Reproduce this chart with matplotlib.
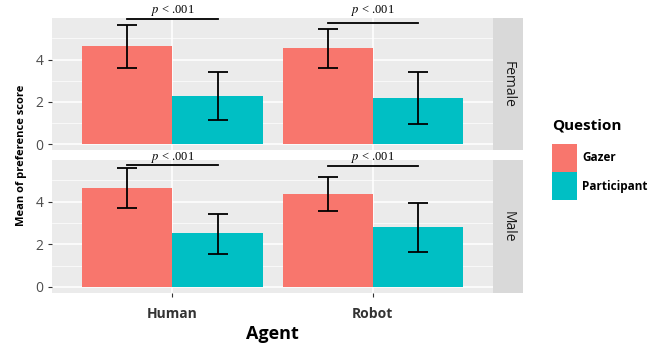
import numpy as np
import matplotlib
matplotlib.use("Agg")
from matplotlib import pyplot as plt
from matplotlib.patches import Patch

plt.rcParams['font.family'] = ['Open Sans', 'DejaVu Sans']
plt.rcParams['mathtext.fontset'] = 'stix'

agents = ["Human", "Robot"]
questions = ["Gazer", "Participant"]
genders = ["Female", "Male"]
colors = ["#F8766D", "#00BFC4"]

# means[gender][question][agent]
means = {
    "Female": {"Gazer": [4.66, 4.55], "Participant": [2.29, 2.20]},
    "Male": {"Gazer": [4.64, 4.36], "Participant": [2.52, 2.80]},
}
upper = {
    "Female": {"Gazer": [5.64, 5.44], "Participant": [3.41, 3.41]},
    "Male": {"Gazer": [5.56, 5.14], "Participant": [3.43, 3.94]},
}
lower = {
    "Female": {"Gazer": [3.62, 3.62], "Participant": [1.17, 0.97]},
    "Male": {"Gazer": [3.71, 3.54], "Participant": [1.53, 1.64]},
}
# significance bar heights per gender/agent
sig_line = {"Female": [5.93, 5.72], "Male": [5.72, 5.69]}
sig_text = {"Female": [6.30, 6.30], "Male": [6.07, 6.07]}
sig_label = r"$p$ < .001"

W, H = 650, 343
fig = plt.figure(figsize=(6.5, 3.43), dpi=100)

panel_left, panel_right, strip_right = 52.3, 493, 523
panels = {"Female": (18.3, 150), "Male": (160, 292.7)}

x = np.arange(1, len(agents) + 1)
bw = 0.45

for g in genders:
    top, bot = panels[g]
    ax = fig.add_axes([panel_left / W, 1 - bot / H, (panel_right - panel_left) / W, (bot - top) / H])
    ax.set_facecolor("#EBEBEB")
    for qi, q in enumerate(questions):
        xs = x + (qi - 0.5) * bw
        ax.bar(xs, means[g][q], width=bw, color=colors[qi], zorder=3)
        m = np.array(means[g][q])
        err = [m - np.array(lower[g][q]), np.array(upper[g][q]) - m]
        ax.errorbar(xs, m, yerr=err, fmt="none", ecolor="black", elinewidth=1.3,
                    capsize=7, capthick=1.3, zorder=4)
    for ai in range(len(agents)):
        ax.plot([x[ai] - bw / 2, x[ai] + bw / 2], [sig_line[g][ai]] * 2, color="black",
                lw=1.3, clip_on=False, zorder=5)
        ax.text(x[ai], sig_text[g][ai], sig_label, ha="center", va="center", fontsize=9,
                family="Liberation Serif", clip_on=False, zorder=5)
    ax.set_xlim(0.4, 2.6)
    ax.set_ylim(-0.27, 5.95)
    ax.set_yticks([0, 2, 4])
    ax.set_yticks([1, 3, 5], minor=True)
    ax.set_xticks(x)
    ax.grid(True, which="major", color="white", lw=1.1, zorder=0)
    ax.grid(True, which="minor", axis="y", color="white", lw=0.5, zorder=0)
    ax.set_axisbelow(True)
    for s in ax.spines.values():
        s.set_visible(False)
    ax.tick_params(axis="y", which="major", colors="#333333", labelcolor="#4D4D4D", labelsize=10, length=3)
    ax.tick_params(axis="y", which="minor", length=0)
    if g == "Male":
        ax.set_xticklabels(agents, fontsize=10, fontweight="bold", color="black")
        ax.tick_params(axis="x", colors="#333333", length=3, pad=7)
        ax.set_xlabel("Agent", fontsize=13, fontweight="bold", labelpad=3)
    else:
        ax.set_xticklabels([])
        ax.tick_params(axis="x", length=0)
    # strip
    sx = fig.add_axes([panel_right / W, 1 - bot / H, (strip_right - panel_right) / W, (bot - top) / H])
    sx.set_facecolor("#D9D9D9")
    sx.set_xticks([])
    sx.set_yticks([])
    for s in sx.spines.values():
        s.set_visible(False)
    sx.text(0.5, 0.5, g, rotation=-90, ha="center", va="center", fontsize=10, color="#1A1A1A",
            transform=sx.transAxes)

fig.text(22 / W, 1 - 155 / H, "Mean of preference score", rotation=90, ha="center", va="center",
         fontsize=8, fontweight="bold")

handles = [Patch(facecolor=c, edgecolor="none") for c in colors]
leg = fig.legend(handles, questions, title="Question", loc="upper left",
                 bbox_to_anchor=(547 / W, 1 - 114 / H), frameon=False,
                 prop={"size": 8.5, "weight": "bold"}, handlelength=2.1, handleheight=3.3,
                 labelspacing=0.0, handletextpad=0.5, borderaxespad=0)
leg.get_title().set_fontsize(11)
leg.get_title().set_fontweight("bold")
leg._legend_box.align = "left"
leg._legend_box.sep = 8

fig.savefig("out.png", dpi=100)
